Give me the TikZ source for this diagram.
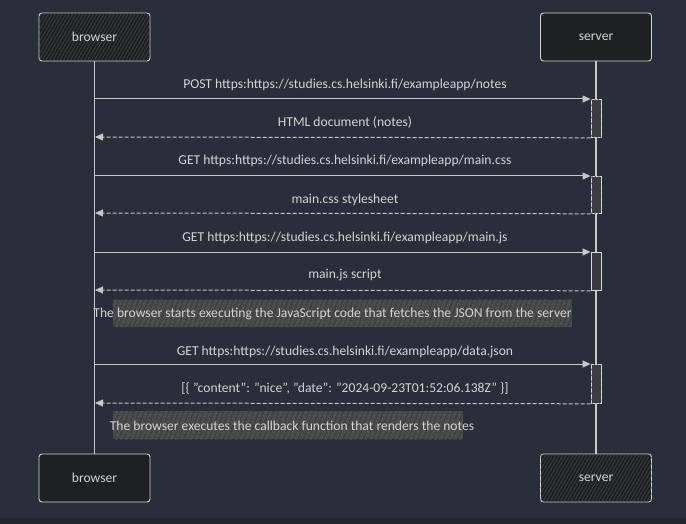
\documentclass[tikz,border=0pt]{standalone}
\usepackage{fontspec}
\setmainfont{Carlito}
\usetikzlibrary{arrows.meta,patterns.meta}
\definecolor{bg}{RGB}{42,46,58}
\definecolor{bgdark}{RGB}{35,38,47}
\definecolor{boxfill}{RGB}{31,32,33}
\definecolor{hatch}{RGB}{70,72,76}
\definecolor{txt}{RGB}{212,212,212}
\definecolor{ln}{RGB}{200,200,200}
\definecolor{notefill}{RGB}{66,66,66}
\definecolor{notehatch}{RGB}{90,90,90}
\definecolor{actfill}{RGB}{58,58,58}
\tikzset{
  actor/.style={draw=ln!80, line width=0.9pt, rounded corners=3pt, fill=boxfill,
    minimum width=111pt, minimum height=48pt, text=txt, font=\fontsize{13.6}{15}\selectfont, inner sep=0pt},
  hatched/.style={postaction={pattern={Lines[angle=60,distance=3pt,line width=0.5pt]}, pattern color=hatch}},
  lifeline/.style={draw=ln, line width=1.3pt},
  actbar/.style={draw=ln!70, line width=0.8pt, fill=actfill, minimum width=10pt, inner sep=0pt, anchor=north},
  msg/.style={draw=ln, line width=1pt, -{Triangle[length=8pt,width=7pt,fill=ln]}},
  reply/.style={draw=ln, line width=1pt, dashed, dash pattern=on 4pt off 2pt, -{Triangle[length=8pt,width=7pt,fill=ln]}},
  lbl/.style={text=txt, font=\fontsize{13.6}{15}\selectfont, inner sep=0pt},
  notebox/.style={fill=notefill, inner sep=0pt, postaction={pattern={Lines[angle=70,distance=4pt,line width=0.6pt]}, pattern color=notehatch}},
}
\begin{document}
\begin{tikzpicture}[x=1pt,y=-1pt]
\useasboundingbox (0,0) rectangle (686,524);
\fill[bg] (0,0) rectangle (686,524);
\fill[bgdark] (0,518) rectangle (686,524);

% actors
\node[actor, hatched] (btop) at (94.5,37) {\raisebox{-1pt}{browser}};
\node[actor] (stop) at (596,37) {\raisebox{-2pt}{server}};
\node[actor] (bbot) at (94.5,478) {\raisebox{-1pt}{browser}};
\node[actor, hatched] (sbot) at (596,478) {\raisebox{-2pt}{server}};

% lifelines
\draw[lifeline] (btop.south) -- (bbot.north);
\draw[lifeline] (stop.south) -- (sbot.north);

% activation bars
\node[actbar, minimum height=38pt, hatched] (a1) at (596,99) {};
\node[actbar, minimum height=37pt, hatched] (a2) at (596,176) {};
\node[actbar, minimum height=38pt] (a3) at (596,252) {};
\node[actbar, minimum height=39pt, hatched] (a4) at (596,364) {};

% browser lifeline points
\coordinate (b1) at (95,99);
\coordinate (b2) at (95,137);
\coordinate (b3) at (95,176);
\coordinate (b4) at (95,213);
\coordinate (b5) at (95,252);
\coordinate (b6) at (95,290);
\coordinate (b7) at (95,364);
\coordinate (b8) at (95,403);

% messages
\draw[msg] (b1) -- (a1.north west);
\node[lbl] (l1) at (345,84.5) {POST https:https://studies.cs.helsinki.fi/exampleapp/notes};
\draw[reply] (a1.south west) -- (b2);
\node[lbl] (l2) at (345,122.5) {HTML document (notes)};

\draw[msg] (b3) -- (a2.north west);
\node[lbl] (l3) at (345,160.5) {GET https:https://studies.cs.helsinki.fi/exampleapp/main.css};
\draw[reply] (a2.south west) -- (b4);
\node[lbl] (l4) at (345,199.5) {main.css stylesheet};

\draw[msg] (b5) -- (a3.north west);
\node[lbl] (l5) at (345,237.5) {GET https:https://studies.cs.helsinki.fi/exampleapp/main.js};
\draw[reply] (a3.south west) -- (b6);
\node[lbl] (l6) at (345,274.5) {main.js script};

% note 1
\node[notebox, minimum width=459pt, minimum height=27pt] (n1box) at (342.5,313) {};
\node[lbl] (n1) at (332.5,313.5) {The browser starts executing the JavaScript code that fetches the JSON from the server};

\draw[msg] (b7) -- (a4.north west);
\node[lbl] (l7) at (345,351.5) {GET https:https://studies.cs.helsinki.fi/exampleapp/data.json};
\draw[reply] (a4.south west) -- (b8);
\node[lbl] (l8) at (345,388.5) {[\{ \symbol{34}content\symbol{34}: \symbol{34}nice\symbol{34}, \symbol{34}date\symbol{34}: \symbol{34}2024-09-23T01:52:06.138Z\symbol{34} \}]};

% note 2
\node[notebox, minimum width=350pt, minimum height=28pt] (n2box) at (288,425) {};
\node[lbl] (n2) at (292,425.5) {The browser executes the callback function that renders the notes};
\end{tikzpicture}
\end{document}
